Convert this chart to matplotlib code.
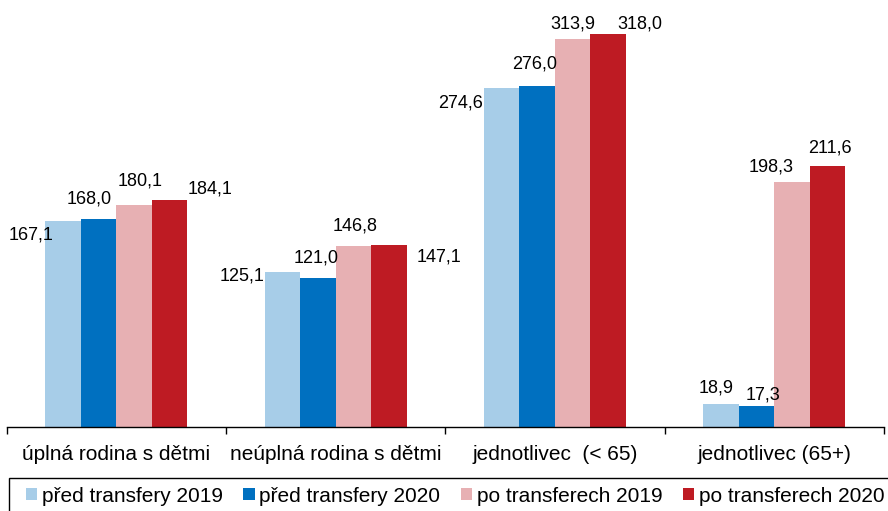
import numpy as np
import matplotlib.pyplot as plt
from matplotlib.patches import Patch, Rectangle

plt.rcParams['font.family'] = ['Liberation Sans', 'DejaVu Sans']

# data
kategorie = ['úplná rodina s dětmi', 'neúplná rodina s dětmi', 'jednotlivec  (< 65)', 'jednotlivec (65+)']
serie = ['před transfery 2019', 'před transfery 2020', 'po transferech 2019', 'po transferech 2020']
pred_2019 = [167.1, 125.1, 274.6, 18.9]
pred_2020 = [168.0, 121.0, 276.0, 17.3]
po_2019 = [180.1, 146.8, 313.9, 198.3]
po_2020 = [184.1, 147.1, 318.0, 211.6]
barvy = ['#A7CDE8', '#0070C0', '#E7B0B3', '#BE1B23']

# posun popisku v pixelech (dx, dy) pro kazdou serii a kategorii
posuny = [
    [(-32, -14), (-40, -4), (-41, -15), (-5, 16)],
    [(-9, 20), (-2, 20), (-3, 22), (6, 11)],
    [(6, 24), (2, 20), (0, 15), (-21, 15)],
    [(41, 11), (50, -12), (32, 10), (2, 18)],
]

hodnoty = [pred_2019, pred_2020, po_2019, po_2020]

W, H = 888, 511
fig = plt.figure(figsize=(W / 100, H / 100), dpi=100)
ax = fig.add_axes([6.5 / W, 84 / H, (884 - 6.5) / W, 420 / H])

x = np.arange(len(kategorie))
sirka = 0.1617
for i, (vals, c) in enumerate(zip(hodnoty, barvy)):
    pos = x + (i - 1.5) * sirka
    bars = ax.bar(pos, vals, width=sirka, color=c, linewidth=0, label=serie[i])
    for j, (b, v) in enumerate(zip(bars, vals)):
        dx, dy = posuny[i][j]
        ax.annotate(f'{v:.1f}'.replace('.', ','),
                    xy=(b.get_x() + b.get_width() / 2, v),
                    xytext=(dx, dy), textcoords='offset pixels',
                    ha='center', va='center', fontsize=13, color='black')

ax.set_xlim(-0.5, 3.5)
ax.set_ylim(0, 340)
for s in ['top', 'right', 'left']:
    ax.spines[s].set_visible(False)
ax.spines['bottom'].set_linewidth(1.0)
ax.set_yticks([])
ax.set_xticks(x)
ax.set_xticklabels(kategorie, fontsize=15)
ax.tick_params(axis='x', which='major', length=0, pad=13)
ax.set_xticks(np.arange(-0.5, 4, 1), minor=True)
ax.tick_params(axis='x', which='minor', length=5, width=1, direction='out')

# ramecek legendy (spodni okraj je mimo obrazek)
fig.patches.append(Rectangle((9 / W, -0.1), 1.0, (H - 478) / H + 0.1,
                             transform=fig.transFigure, fill=False,
                             edgecolor='black', linewidth=1.0))
handles = [Patch(facecolor=c, edgecolor='none') for c in barvy]
fig.legend(handles, serie, loc='center left', bbox_to_anchor=(26 / W, (H - 496) / H),
           ncol=4, frameon=False, fontsize=15, handlelength=0.55, handleheight=0.55,
           handletextpad=0.2, columnspacing=1.0, borderpad=0, borderaxespad=0)

fig.savefig('out.png', dpi=100)
